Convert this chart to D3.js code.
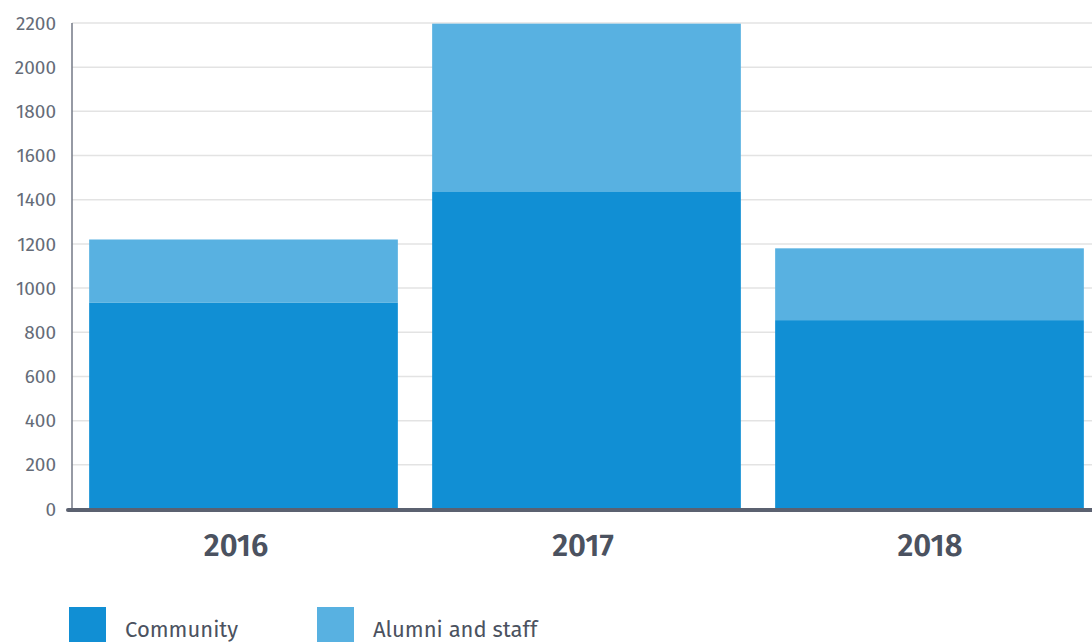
<!DOCTYPE html>
<html>
<head>
<meta charset="utf-8">
<script src="https://cdn.jsdelivr.net/npm/d3@7/dist/d3.min.js"></script>
<style>
html,body{margin:0;padding:0;background:#fff;}
svg{display:block;}
</style>
</head>
<body>
<svg id="chart" width="1092" height="642"></svg>
<script>
const categories = ["2016", "2017", "2018"];
const community = [935, 1435, 855];
const alumniStaff = [285, 762, 325];
const yTicks = [0, 200, 400, 600, 800, 1000, 1200, 1400, 1600, 1800, 2000, 2200];
const seriesNames = ["Community", "Alumni and staff"];
const seriesColors = ["#118fd4", "#58b1e1"];

const svg = d3.select("#chart");
const W = 1092, H = 642;
const plotLeft = 72, plotRight = 1101, plotTop = 23, plotBottom = 509;
const FONT = "'Fira Sans', Lato, 'Open Sans', sans-serif";

const y = d3.scaleLinear().domain([0, 2200]).range([plotBottom, plotTop]);
const x = d3.scaleBand().domain(categories).range([plotLeft, plotRight]).paddingInner(0.1).paddingOuter(0.05);
const xLab = d3.scaleBand().domain(categories).range([62.5, 1103.5]);

// gridlines
svg.append("g").selectAll("line").data(yTicks.filter(d => d > 0)).join("line")
  .attr("x1", plotLeft).attr("x2", W)
  .attr("y1", d => y(d)).attr("y2", d => y(d))
  .attr("stroke", "#e3e3e3").attr("stroke-width", 1.5);

// stacked data
const rows = categories.map((c, i) => ({cat: c, community: community[i], alumni: alumniStaff[i]}));
const stack = d3.stack().keys(["community", "alumni"]);
const stacked = stack(rows);

svg.append("g").selectAll("g").data(stacked).join("g")
  .attr("fill", (d, i) => seriesColors[i])
  .selectAll("rect").data(d => d).join("rect")
  .attr("x", d => x(d.data.cat))
  .attr("width", x.bandwidth())
  .attr("y", d => y(d[1]))
  .attr("height", d => y(d[0]) - y(d[1]));

// left axis line
svg.append("line").attr("x1", plotLeft).attr("x2", plotLeft)
  .attr("y1", plotTop).attr("y2", plotBottom)
  .attr("stroke", "#737986").attr("stroke-width", 1.5);

// y tick labels via axis
const yAxis = d3.axisLeft(y).tickValues(yTicks).tickSize(0).tickPadding(16).tickFormat(d3.format("d"));
const gy = svg.append("g").attr("transform", `translate(${plotLeft},0)`).call(yAxis);
gy.select(".domain").remove();
gy.selectAll("text").attr("font-family", FONT).attr("font-weight", 400)
  .attr("font-size", 19).attr("fill", "#656c78");

// baseline
svg.append("line").attr("x1", 68).attr("x2", W)
  .attr("y1", plotBottom + 1).attr("y2", plotBottom + 1)
  .attr("stroke", "#5b6170").attr("stroke-width", 4).attr("stroke-linecap", "round");

// x labels
const xAxis = d3.axisBottom(xLab).tickSize(0).tickPadding(0);
const gx = svg.append("g").attr("transform", `translate(0,${plotBottom})`).call(xAxis);
gx.select(".domain").remove();
gx.selectAll("text").attr("dy", null).attr("y", 47)
  .attr("font-family", FONT)
  .attr("font-size", 31).attr("font-weight", 600).attr("fill", "#4b5260");

// legend
const legendX = [69, 317];
const lg = svg.append("g").selectAll("g").data(seriesNames).join("g")
  .attr("transform", (d, i) => `translate(${legendX[i]},607)`);
lg.append("rect").attr("width", 37).attr("height", 40).attr("fill", (d, i) => seriesColors[i]);
lg.append("text").attr("x", 56).attr("y", 30).text(d => d)
  .attr("font-family", FONT).attr("font-weight", 400)
  .attr("font-size", 22).attr("fill", "#4b5260");
</script>
</body>
</html>
